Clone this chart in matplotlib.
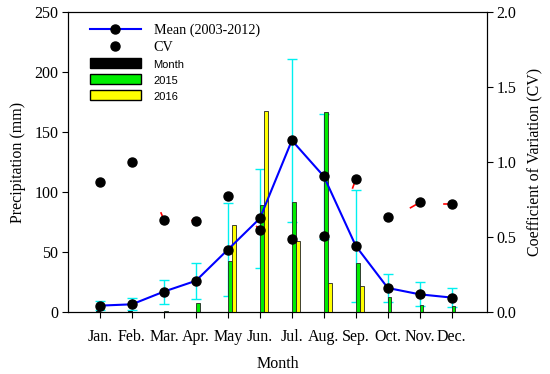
import numpy as np
import matplotlib
matplotlib.use("Agg")
import matplotlib.pyplot as plt
from matplotlib.patches import Patch
from matplotlib.lines import Line2D

months = ["Jan.", "Feb.", "Mar.", "Apr.", "May", "Jun.", "Jul.", "Aug.", "Sep.", "Oct.", "Nov.", "Dec."]
mean_precip = [5.3, 6.4, 17, 26, 52, 78, 143, 113, 55, 20, 14.7, 12]
mean_err = [3.5, 5, 10, 15, 39, 41, 68, 52, 47, 12, 10, 8]
cv = [0.867, 1.0, 0.615, 0.607, 0.773, 0.545, 0.485, 0.505, 0.885, 0.635, 0.73, 0.718]
month_bar = [0.6, 0.6, 0, 0, 0, 0, 0, 0, 0, 0, 0, 0]
p2015 = [0, 0, 1.2, 7.8, 42.5, 89, 92, 167, 40.5, 12.8, 5.8, 5]
p2016 = [0, 0, 0, 0, 72.5, 167.5, 59, 24, 21.7, 0, 0, 0]
# short red tails seen next to some CV points (month number, start x, start CV)
tail_month = [3, 4, 5, 6, 9, 11, 12]
tail_x = [2.91, 3.88, 4.92, 5.9, 8.9, 10.71, 11.75]
tail_cv = [0.66, 0.61, 0.758, 0.57, 0.827, 0.695, 0.718]

serif = ["Liberation Serif", "DejaVu Serif"]
sans = ["Liberation Sans", "DejaVu Sans"]
plt.rcParams["font.family"] = serif

x = np.arange(1, 13)
w = 0.115

fig = plt.figure(figsize=(5.5, 3.74), dpi=100)
ax = fig.add_axes([0.1236, 0.1658, 0.7618, 0.8022])
ax2 = ax.twinx()

ax.bar(x - w, month_bar, w, align="edge", color="black", edgecolor="black", lw=0.6, zorder=3)
ax.bar(x, p2015, w, align="edge", color="#00ee00", edgecolor="#222222", lw=0.6, zorder=3)
ax.bar(x + w + 0.01, p2016, w, align="edge", color="#ffff00", edgecolor="#222222", lw=0.6, zorder=3)
ax.errorbar(x, mean_precip, yerr=mean_err, fmt="none", ecolor="#00f0f0", elinewidth=1,
            capsize=3.3, capthick=1, zorder=2)
ax.plot(x, mean_precip, color="#0000ff", lw=1.5, marker="o", ms=6.5,
        mfc="black", mec="black", zorder=4)

for m, tx, tc in zip(tail_month, tail_x, tail_cv):
    ax2.plot([tx, m], [tc, cv[m - 1]], color="red", lw=1.2, zorder=2)
ax2.plot(x, cv, ls="none", marker="o", ms=6.5, color="black", zorder=3)

ax.set_xlim(0, 13.1)
ax.set_ylim(0, 250)
ax2.set_ylim(0, 2.0)
ax.set_xticks(x)
ax.set_xticklabels(months)
ax.set_yticks(np.arange(0, 251, 50))
ax2.set_yticks([0, 0.5, 1.0, 1.5, 2.0])
ax2.set_yticklabels(["0.0", "0.5", "1.0", "1.5", "2.0"])

for a in (ax, ax2):
    a.tick_params(direction="out", length=4, width=0.8, labelsize=11.5, pad=3)
ax.tick_params(axis="x", pad=8)

ax.set_xlabel("Month", fontsize=11.5, labelpad=8)
ax.set_ylabel("Precipitation (mm)", fontsize=11.5, labelpad=6)
ax2.set_ylabel("Coefficient of Variation (CV)", fontsize=11.5, labelpad=8)

handles = [
    Line2D([], [], color="#0000ff", lw=1.5, marker="o", ms=6.5, mfc="black", mec="black"),
    Line2D([], [], ls="none", marker="o", ms=6.5, color="black"),
    Patch(facecolor="black", edgecolor="black"),
    Patch(facecolor="#00ee00", edgecolor="black"),
    Patch(facecolor="#ffff00", edgecolor="black"),
]
labels = ["Mean (2003-2012)", "CV", "Month", "2015", "2016"]
leg = ax2.legend(handles, labels, loc="upper left", frameon=False, fontsize=10.2,
                 handlelength=3.6, handletextpad=0.9, labelspacing=0.28,
                 borderaxespad=0.4, bbox_to_anchor=(0.025, 0.998))
for t in leg.get_texts()[2:]:
    t.set_family(sans)
    t.set_fontsize(8)

fig.savefig("out.png", dpi=100)
